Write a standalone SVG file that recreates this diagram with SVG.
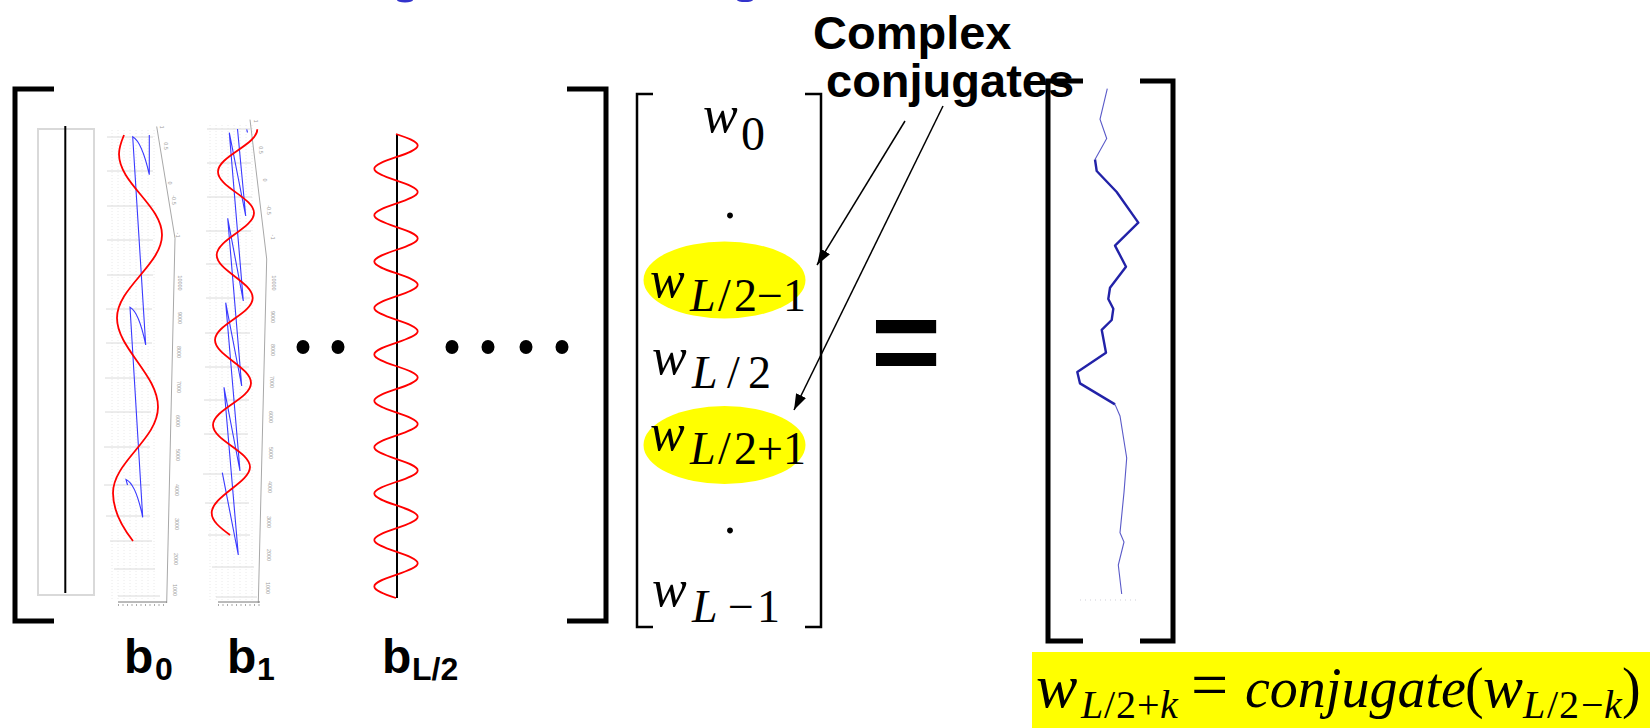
<svg xmlns="http://www.w3.org/2000/svg" width="1650" height="728" viewBox="0 0 1650 728">
<style>
.thick{fill:none;stroke:#000;stroke-width:5;stroke-linejoin:miter}
.thin{fill:none;stroke:#000;stroke-width:2.5;stroke-linejoin:miter}
.red{fill:none;stroke:#ff0000;stroke-width:1.8}
.blue{fill:none;stroke:#3a3aff;stroke-width:1.1}
.grid{stroke:#dadada;stroke-width:1}
.dgrid{stroke:#e4e4e4;stroke-width:0.8;stroke-dasharray:1 2}
.axis{fill:none;stroke:#a8a8a8;stroke-width:1}
.tl{font-family:"Liberation Sans",Arial,sans-serif;font-size:5.5px;fill:#a0a0a0;text-anchor:middle}
.m{font-family:"Liberation Serif","Times New Roman",serif;fill:#000}
.it{font-style:italic}
.bl{font-family:"Liberation Sans",Arial,sans-serif;font-weight:bold;fill:#000}
.arrow{fill:none;stroke:#000;stroke-width:1.5}
</style>
<defs>
<marker id="ah" markerUnits="userSpaceOnUse" markerWidth="18" markerHeight="12" refX="16" refY="5.5" orient="auto">
<path d="M0,0 L16,5.5 L0,11 z" fill="#000"/>
</marker>
</defs>
<rect width="1650" height="728" fill="#fff"/>

<g id="title-fragments" fill="#3333cc">
<ellipse cx="405" cy="0" rx="8" ry="2.5"/>
<ellipse cx="745" cy="0" rx="8" ry="2"/>
</g>

<g id="basis-matrix">
<path class="thick" d="M54,89 H15 V621 H54"/>
<path class="thick" d="M567,89 H606 V621 H567"/>
</g>

<g id="b0">
<rect x="38" y="129" width="56" height="466" fill="none" stroke="#d9d9d9" stroke-width="2"/>
<line x1="65.3" y1="126" x2="65.3" y2="593" stroke="#000" stroke-width="2"/>
<g class="dgrid">
<line x1="112" y1="130" x2="112" y2="600"/><line x1="118" y1="130" x2="118" y2="600"/><line x1="124" y1="130" x2="124" y2="600"/><line x1="130" y1="130" x2="130" y2="600"/><line x1="136" y1="130" x2="136" y2="600"/><line x1="142" y1="130" x2="142" y2="600"/><line x1="148" y1="130" x2="148" y2="600"/><line x1="154" y1="130" x2="154" y2="600"/>
</g>
<g class="grid">
<line x1="107" y1="137" x2="153" y2="137"/><line x1="107" y1="171" x2="153" y2="171"/><line x1="107" y1="206" x2="153" y2="206"/><line x1="107" y1="240" x2="153" y2="240"/><line x1="107" y1="275" x2="153" y2="275"/><line x1="106" y1="309" x2="152" y2="309"/><line x1="106" y1="343" x2="152" y2="343"/><line x1="105" y1="378" x2="151" y2="378"/><line x1="105" y1="412" x2="151" y2="412"/><line x1="104" y1="447" x2="150" y2="447"/><line x1="104" y1="485" x2="150" y2="485"/><line x1="106" y1="516" x2="150" y2="516"/><line x1="110" y1="541" x2="152" y2="541"/><line x1="114" y1="569" x2="155" y2="569"/><line x1="118" y1="596" x2="160" y2="596"/>
</g>
<path class="axis" d="M156.7,126.5 L175,238.4 L166.7,603"/>
<line x1="118" y1="602" x2="167" y2="602" stroke="#777" stroke-width="1"/>
<line x1="118" y1="605" x2="167" y2="605" stroke="#aaa" stroke-width="2" stroke-dasharray="1 3.5"/>
<text class="tl" x="160" y="127" transform="rotate(90 160 127)">1</text>
<text class="tl" x="164" y="146" transform="rotate(90 164 146)">0.5</text>
<text class="tl" x="168" y="183" transform="rotate(90 168 183)">0</text>
<text class="tl" x="172" y="200" transform="rotate(90 172 200)">-0.5</text>
<text class="tl" x="176" y="235" transform="rotate(90 176 235)">-1</text>
<text class="tl" x="178" y="283" transform="rotate(90 178 283)">10000</text>
<text class="tl" x="178" y="318" transform="rotate(90 178 318)">9000</text>
<text class="tl" x="177" y="352" transform="rotate(90 177 352)">8000</text>
<text class="tl" x="177" y="387" transform="rotate(90 177 387)">7000</text>
<text class="tl" x="176" y="421" transform="rotate(90 176 421)">6000</text>
<text class="tl" x="176" y="455" transform="rotate(90 176 455)">5000</text>
<text class="tl" x="175" y="490" transform="rotate(90 175 490)">4000</text>
<text class="tl" x="175" y="524" transform="rotate(90 175 524)">3000</text>
<text class="tl" x="174" y="559" transform="rotate(90 174 559)">2000</text>
<text class="tl" x="173" y="590" transform="rotate(90 173 590)">1000</text>
<path class="blue" d="M149.3,135 L149.3,174.7 Q142,142 132.7,136.8 L145.7,345 Q139,312 130,307.3 L142.7,517.3 Q136,484 126,479.4 L127.5,485"/>
<path class="red" d="M124,135 C121.5,141 119,148 119,154 C119,183.5 162,205.5 162,235 S117,287.8 117,318 S158,374.6 158,407 S113,461.7 113,493 C113,510.5 122,527 133,541"/>
<text class="bl" font-size="48"><tspan x="124" y="673">b</tspan><tspan x="155" y="680" font-size="32">0</tspan></text>
</g>

<g id="b1">
<g class="dgrid">
<line x1="210" y1="125" x2="210" y2="600"/><line x1="216" y1="125" x2="216" y2="600"/><line x1="222" y1="125" x2="222" y2="600"/><line x1="228" y1="125" x2="228" y2="600"/><line x1="234" y1="125" x2="234" y2="600"/><line x1="240" y1="125" x2="240" y2="600"/><line x1="246" y1="125" x2="246" y2="600"/><line x1="252" y1="125" x2="252" y2="600"/>
</g>
<g class="grid">
<line x1="207" y1="129" x2="250" y2="129"/><line x1="207" y1="163" x2="251" y2="163"/><line x1="207" y1="197" x2="252" y2="197"/><line x1="206" y1="231" x2="251" y2="231"/><line x1="206" y1="264" x2="251" y2="264"/><line x1="206" y1="298" x2="250" y2="298"/><line x1="205" y1="333" x2="250" y2="333"/><line x1="205" y1="367" x2="249" y2="367"/><line x1="204" y1="400" x2="249" y2="400"/><line x1="204" y1="434" x2="248" y2="434"/><line x1="203" y1="474" x2="248" y2="474"/><line x1="205" y1="503" x2="249" y2="503"/><line x1="208" y1="535" x2="250" y2="535"/><line x1="212" y1="567" x2="254" y2="567"/><line x1="216" y1="597" x2="257" y2="597"/>
</g>
<path class="axis" d="M250,119.6 L266.7,259 L258.3,603"/>
<line x1="218" y1="602" x2="260" y2="602" stroke="#777" stroke-width="1"/>
<line x1="218" y1="605" x2="260" y2="605" stroke="#aaa" stroke-width="2" stroke-dasharray="1 3.5"/>
<text class="tl" x="254" y="121" transform="rotate(90 254 121)">1</text>
<text class="tl" x="259" y="150" transform="rotate(90 259 150)">0.5</text>
<text class="tl" x="263" y="180" transform="rotate(90 263 180)">0</text>
<text class="tl" x="267" y="210" transform="rotate(90 267 210)">-0.5</text>
<text class="tl" x="271" y="237" transform="rotate(90 271 237)">-1</text>
<text class="tl" x="272" y="283" transform="rotate(90 272 283)">10000</text>
<text class="tl" x="271" y="317" transform="rotate(90 271 317)">9000</text>
<text class="tl" x="271" y="350" transform="rotate(90 271 350)">8000</text>
<text class="tl" x="270" y="382" transform="rotate(90 270 382)">7000</text>
<text class="tl" x="269" y="417" transform="rotate(90 269 417)">6000</text>
<text class="tl" x="269" y="453" transform="rotate(90 269 453)">5000</text>
<text class="tl" x="268" y="487" transform="rotate(90 268 487)">4000</text>
<text class="tl" x="267" y="522" transform="rotate(90 267 522)">3000</text>
<text class="tl" x="267" y="555" transform="rotate(90 267 555)">2000</text>
<text class="tl" x="266" y="588" transform="rotate(90 266 588)">1000</text>
<path class="blue" d="M246.7,129.3 L247.5,132.5 M237.5,129 L245.7,216 L229.3,132.7 L243.3,301 L227.7,218.3 L241.7,386 L225.7,302.7 L240,471 L224,387.3 L238.3,555 L222.3,472.7"/>
<path class="red" stroke-width="2.6" d="M257.3,129.3 C257.3,144.7 218,156.3 218,171.7 S254,198 254,213 S216.7,239.7 216.7,255 S252.7,282.3 252.7,298 S215,324.7 215,340 S251,367.3 251,383 S213,409.7 213,425 S250,451.7 250,467 S211.7,496.3 211.7,513 C211.7,521 220,527.7 230,535"/>
<text class="bl" font-size="48"><tspan x="227" y="673">b</tspan><tspan x="257" y="680" font-size="32">1</tspan></text>
</g>

<g id="dots" fill="#000">
<ellipse cx="303" cy="347" rx="6.5" ry="7"/>
<ellipse cx="338" cy="347" rx="6.5" ry="7"/>
<ellipse cx="452" cy="347" rx="6.5" ry="7"/>
<ellipse cx="488" cy="347" rx="6.5" ry="7"/>
<ellipse cx="526" cy="347" rx="6.5" ry="7"/>
<ellipse cx="562" cy="347" rx="6.5" ry="7"/>
</g>

<g id="bL2">
<line x1="397" y1="134" x2="397" y2="598" stroke="#000" stroke-width="2"/>
<path class="red" stroke-width="1.5" d="M396,134 C407.3,137.8 417.7,141.4 417.7,145.6 C417.7,154.05 374.3,160.35 374.3,168.8 S417.7,183.55 417.7,192 S374.3,206.75 374.3,215.2 S417.7,229.95 417.7,238.4 S374.3,253.15 374.3,261.6 S417.7,276.35 417.7,284.8 S374.3,299.55 374.3,308 S417.7,322.75 417.7,331.2 S374.3,345.95 374.3,354.4 S417.7,369.15 417.7,377.6 S374.3,392.35 374.3,400.8 S417.7,415.55 417.7,424 S374.3,438.75 374.3,447.2 S417.7,461.95 417.7,470.4 S374.3,485.15 374.3,493.6 S417.7,508.35 417.7,516.8 S374.3,531.55 374.3,540 S417.7,554.75 417.7,563.2 S374.3,577.95 374.3,586.4 C374.3,590.6 384.7,594.2 396,598"/>
<text class="bl" font-size="48"><tspan x="382" y="673">b</tspan><tspan x="412" y="680" font-size="32">L/2</tspan></text>
</g>

<g id="w-vector">
<path class="thin" d="M653,94 H637 V627 H653"/>
<path class="thin" d="M805,94 H821 V627 H805"/>
<g id="w0">
<text class="m" font-size="48"><tspan class="it" x="703" y="132" font-size="52">w</tspan><tspan x="741" y="150">0</tspan></text>
</g>
<text id="dot-upper" class="m" x="730" y="218" font-size="50" text-anchor="middle">.</text>
<g id="w-L2-minus-1">
<ellipse cx="724.5" cy="280" rx="81" ry="38.5" fill="#ffff00"/>
<text class="m" font-size="46"><tspan class="it" x="650" y="297" font-size="52">w</tspan><tspan class="it" x="690" y="311">L</tspan><tspan x="718">/</tspan><tspan x="734">2</tspan><tspan x="757">−</tspan><tspan x="783">1</tspan></text>
</g>
<g id="w-L2">
<text class="m" font-size="46"><tspan class="it" x="652" y="374" font-size="52">w</tspan><tspan class="it" x="692" y="388">L</tspan><tspan x="727">/</tspan><tspan x="748">2</tspan></text>
</g>
<g id="w-L2-plus-1">
<ellipse cx="724.5" cy="445" rx="81" ry="39" fill="#ffff00"/>
<text class="m" font-size="46"><tspan class="it" x="650" y="450" font-size="52">w</tspan><tspan class="it" x="690" y="464">L</tspan><tspan x="718">/</tspan><tspan x="734">2</tspan><tspan x="757">+</tspan><tspan x="783">1</tspan></text>
</g>
<text id="dot-lower" class="m" x="730" y="533" font-size="50" text-anchor="middle">.</text>
<g id="w-L-minus-1">
<text class="m" font-size="46"><tspan class="it" x="652" y="606" font-size="52">w</tspan><tspan class="it" x="692" y="622">L</tspan><tspan x="728">−</tspan><tspan x="757">1</tspan></text>
</g>
</g>

<g id="equals">
<text class="bl" x="871" y="383" font-size="120">=</text>
</g>

<g id="result-vector">
<line x1="1080" y1="600" x2="1137" y2="600" stroke="#cfcfd8" stroke-width="1" stroke-dasharray="1 4"/>
<polyline fill="none" stroke="#5a5ac8" stroke-width="1.1" points="1107.3,88.7 1100,119.3 1106.7,138.5 1095,159.5"/>
<polyline fill="none" stroke="#2222a8" stroke-width="2.4" stroke-linejoin="round" points="1095,159.5 1096.7,171 1116.7,192 1138.3,222.6 1115,245.6 1126,266.7 1110,287.7 1108.3,299 1113.3,308.8 1111.7,320 1101.7,329.8 1106,352.8 1077.3,372 1080,383.4 1115,404.4"/>
<polyline fill="none" stroke="#5a5ac8" stroke-width="1.1" points="1115,404.4 1120,416 1126.7,458 1124,492.4 1120,532.6 1124,542 1118.3,565 1121.7,594"/>
<path class="thick" stroke-width="5.5" d="M1083,81 H1048 V641 H1083"/>
<path class="thick" stroke-width="5.5" d="M1140,81 H1173 V641 H1140"/>
</g>

<g id="complex-conjugates-label">
<text class="bl" x="813" y="49" font-size="47">Complex</text>
<text class="bl" x="826" y="97" font-size="47">conjugates</text>
</g>

<g id="connectors">
<line class="arrow" x1="905" y1="121" x2="817" y2="265" marker-end="url(#ah)"/>
<line class="arrow" x1="943" y1="106" x2="794" y2="410" marker-end="url(#ah)"/>
</g>

<g id="formula">
<rect x="1032" y="652" width="618" height="76" fill="#ffff00"/>
<text class="m" font-size="56"><tspan class="it" x="1036" y="707" font-size="62">w</tspan><tspan class="it" x="1081" y="718" font-size="40">L</tspan><tspan x="1104" font-size="40">/</tspan><tspan x="1116" font-size="40">2</tspan><tspan x="1137" font-size="40">+</tspan><tspan class="it" x="1160" font-size="40">k</tspan><tspan x="1191" y="707" font-size="66">=</tspan><tspan class="it" x="1245">conjugate</tspan><tspan x="1465">(</tspan><tspan class="it" x="1483" font-size="60">w</tspan><tspan class="it" x="1523" y="718" font-size="40">L</tspan><tspan x="1547" font-size="40">/</tspan><tspan x="1559" font-size="40">2</tspan><tspan x="1581" font-size="40">−</tspan><tspan class="it" x="1604" font-size="40">k</tspan><tspan x="1622" y="707">)</tspan></text>
</g>
</svg>
